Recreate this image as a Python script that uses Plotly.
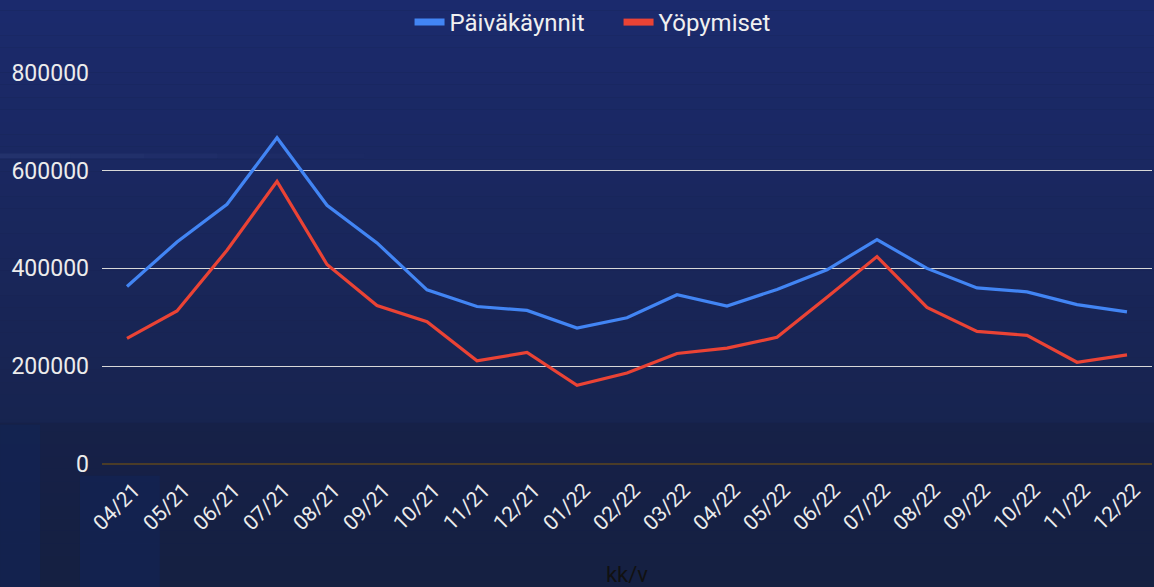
import plotly.graph_objects as go

months = ["04/21", "05/21", "06/21", "07/21", "08/21", "09/21", "10/21", "11/21", "12/21",
          "01/22", "02/22", "03/22", "04/22", "05/22", "06/22", "07/22", "08/22", "09/22",
          "10/22", "11/22", "12/22"]
paivakaynnit = [363000, 454000, 531000, 667000, 529000, 452000, 356000, 322000, 314000,
                278000, 299000, 346000, 323000, 357000, 397000, 459000, 400000, 360000,
                352000, 326000, 311000]
yopymiset = [257000, 313000, 437000, 578000, 408000, 324000, 291000, 211000, 228000,
             161000, 186000, 226000, 237000, 259000, 341000, 424000, 320000, 271000,
             263000, 208000, 223000]
y_ticks = [0, 200000, 400000, 600000, 800000]

BLUE = "#4285f4"
RED = "#ea4335"

fig = go.Figure()
fig.add_trace(go.Scatter(x=months, y=paivakaynnit, name="Päiväkäynnit", mode="lines",
                         line=dict(color=BLUE, width=3.2), showlegend=False))
fig.add_trace(go.Scatter(x=months, y=yopymiset, name="Yöpymiset", mode="lines",
                         line=dict(color=RED, width=3.2), showlegend=False))
# legend entries drawn as short thick bars
for name, col in [("Päiväkäynnit", BLUE), ("Yöpymiset", RED)]:
    fig.add_trace(go.Scatter(x=[None], y=[None], name=name, mode="lines",
                             line=dict(color=col, width=7)))

# background gradient approximation
top = (28, 43, 110)
mid = (25, 38, 88)
bot = (22, 34, 68)
n = 50
y_hi, y_lo = 1.22, -0.36
shapes = []
for i in range(n):
    t = i / (n - 1)
    if t < 0.5:
        u = t / 0.5
        c = tuple(int(top[k] + (mid[k] - top[k]) * u) for k in range(3))
    else:
        u = (t - 0.5) / 0.5
        c = tuple(int(mid[k] + (bot[k] - mid[k]) * u) for k in range(3))
    shapes.append(dict(type="rect", xref="paper", yref="paper", layer="below",
                       x0=-0.2, x1=1.2,
                       y0=y_hi - (i + 1) * (y_hi - y_lo) / n,
                       y1=y_hi - i * (y_hi - y_lo) / n,
                       fillcolor="rgb(%d,%d,%d)" % c, line=dict(width=0)))
# faint fading glare stripe
for j, a in enumerate([0.09, 0.07, 0.05, 0.03, 0.015]):
    shapes.append(dict(type="rect", xref="paper", yref="paper", layer="below",
                       x0=-0.1 + j * 0.07 if j else -0.2, x1=-0.03 + j * 0.07,
                       y0=0.78, y1=0.792,
                       fillcolor="rgba(130,150,210,%.3f)" % a, line=dict(width=0)))
# bottom darker band and panels
shapes.append(dict(type="rect", xref="paper", yref="paper", layer="below",
                   x0=-0.2, x1=1.2, y0=-0.36, y1=0.105,
                   fillcolor="rgba(20,30,60,0.35)", line=dict(width=0)))
shapes.append(dict(type="rect", xref="paper", yref="paper", layer="below",
                   x0=-0.0971, x1=-0.059, y0=-0.36, y1=0.10,
                   fillcolor="rgba(18,36,86,0.6)", line=dict(width=0)))
shapes.append(dict(type="rect", xref="paper", yref="paper", layer="below",
                   x0=-0.021, x1=0.055, y0=-0.36, y1=-0.03,
                   fillcolor="rgba(18,36,86,0.6)", line=dict(width=0)))

fig.update_layout(
    width=1154, height=587,
    margin=dict(l=102, r=2, t=72, b=123),
    paper_bgcolor="rgb(24,36,82)",
    plot_bgcolor="rgba(0,0,0,0)",
    font=dict(family="Roboto, Arial, sans-serif", color="#ececec", size=21),
    shapes=shapes,
    legend=dict(orientation="h", x=0.536, xanchor="center", xref="container",
                y=1.0, yanchor="top", yref="container",
                font=dict(size=24, color="#f0f0f0"), itemwidth=30,
                entrywidth=164,
                bgcolor="rgba(0,0,0,0)"),
    xaxis=dict(type="category", tickangle=-45, showgrid=False, zeroline=False,
               showline=False, range=[-0.5, 20.5], automargin=False,
               ticks="", ticklabelstandoff=9, ticklabelshift=7,
               tickfont=dict(size=21, color="#ececec"),
               title=dict(text="kk/v", font=dict(size=22, color="#111111"), standoff=37)),
    yaxis=dict(range=[0, 801500], tickvals=y_ticks, tickformat="d", automargin=False,
               showgrid=True, gridcolor="#d8d8d8", gridwidth=1.4,
               zeroline=True, zerolinecolor="#4a3c28", zerolinewidth=1.5,
               ticks="", ticklabelstandoff=12,
               tickfont=dict(size=23, color="#ececec")),
)

fig.write_html("out.html", config={"displayModeBar": False},
               post_script="document.body.style.margin='0';")
